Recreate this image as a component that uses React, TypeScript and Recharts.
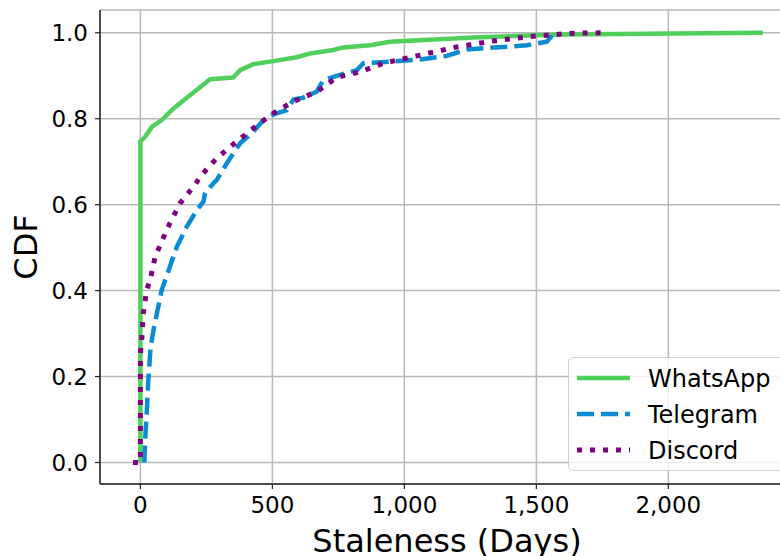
import {
  CartesianGrid,
  Label,
  Line,
  LineChart,
  XAxis,
  YAxis,
} from "recharts";

// CDF points (days, cumulative share)
const whatsappDays = [0, 0, 18, 43, 81, 119, 150, 213, 264, 352, 378, 428, 504, 592, 643, 731, 769, 870, 946, 1261, 1590, 2358];
const whatsappCdf = [0, 0.747, 0.758, 0.781, 0.797, 0.82, 0.836, 0.867, 0.892, 0.896, 0.913, 0.927, 0.934, 0.943, 0.952, 0.96, 0.966, 0.971, 0.979, 0.989, 0.996, 1.0];

const telegramDays = [15, 18, 24, 30, 39, 52, 68, 81, 112, 138, 176, 214, 239, 245, 277, 289, 327, 378, 428, 466, 504, 555, 580, 617, 668, 693, 756, 820, 845, 946, 1059, 1160, 1236, 1464, 1539, 1555, 1560];
const telegramCdf = [0, 0.053, 0.115, 0.192, 0.27, 0.316, 0.363, 0.402, 0.456, 0.502, 0.549, 0.588, 0.607, 0.627, 0.65, 0.657, 0.696, 0.743, 0.77, 0.797, 0.81, 0.82, 0.845, 0.849, 0.863, 0.89, 0.902, 0.913, 0.929, 0.933, 0.938, 0.946, 0.961, 0.971, 0.979, 0.99, 1.0];

const discordDays = [-28, 0, 0, 5, 11, 24, 37, 56, 75, 94, 112, 131, 150, 176, 207, 226, 289, 365, 428, 504, 580, 668, 744, 832, 920, 1059, 1198, 1337, 1489, 1640, 1773];
const discordCdf = [0, 0, 0.254, 0.285, 0.347, 0.402, 0.425, 0.479, 0.506, 0.533, 0.557, 0.58, 0.603, 0.623, 0.646, 0.665, 0.708, 0.747, 0.778, 0.813, 0.84, 0.863, 0.896, 0.909, 0.929, 0.948, 0.967, 0.981, 0.992, 0.999, 1.0];

const xTicks = [0, 500, 1000, 1500, 2000];
const yTicks = [0, 0.2, 0.4, 0.6, 0.8, 1.0];

const toPoints = (days: number[], cdf: number[]) =>
  days.map((d, i) => ({ d, cdf: cdf[i] }));

const series = [
  { name: "WhatsApp", color: "#50cf5c", dash: undefined, width: 4.5, data: toPoints(whatsappDays, whatsappCdf) },
  { name: "Telegram", color: "#0b8cd2", dash: "17 7", width: 4.5, data: toPoints(telegramDays, telegramCdf) },
  { name: "Discord", color: "#800080", dash: "5 8", width: 5, data: toPoints(discordDays, discordCdf) },
];

const FONT = "'DejaVu Sans', sans-serif";
const GRID = "#b8b8b8";
const SPINE = "#222";

const formatDays = (v: number) => v.toLocaleString("en-US");

const YLabel = ({ viewBox }: any) => {
  const cy = viewBox.y + viewBox.height / 2;
  return (
    <text
      x={37}
      y={cy}
      transform={`rotate(-90, 37, ${cy})`}
      textAnchor="middle"
      fontSize={32}
      fontFamily={FONT}
      fill="#000"
    >
      CDF
    </text>
  );
};

export default function App() {
  return (
    <div
      style={{
        position: "absolute",
        left: 0,
        top: 0,
        width: 780,
        height: 556,
        overflow: "hidden",
        background: "#fff",
        fontFamily: FONT,
      }}
    >
      <LineChart
        width={800}
        height={556}
        margin={{ top: 10, right: 6, bottom: 0, left: 0 }}
      >
        <CartesianGrid stroke={GRID} strokeWidth={1.5} />
        <XAxis
          xAxisId="top"
          orientation="top"
          type="number"
          dataKey="d"
          domain={[-153, 2476]}
          allowDataOverflow
          height={0}
          tick={false}
          tickLine={false}
          axisLine={{ stroke: SPINE, strokeWidth: 1.5 }}
        />
        <XAxis
          type="number"
          dataKey="d"
          domain={[-153, 2476]}
          allowDataOverflow
          ticks={xTicks}
          tickFormatter={formatDays}
          height={72}
          tickSize={5}
          tickMargin={8}
          tick={{ fontSize: 23, fill: "#000", fontFamily: FONT }}
          tickLine={{ stroke: SPINE, strokeWidth: 1.2 }}
          axisLine={{ stroke: SPINE, strokeWidth: 1.5 }}
        >
          <Label
            value="Staleness (Days)"
            position="insideBottom"
            offset={4}
            fontSize={32}
            fill="#000"
            fontFamily={FONT}
          />
        </XAxis>
        <YAxis
          type="number"
          domain={[-0.05, 1.053]}
          allowDataOverflow
          ticks={yTicks}
          tickFormatter={(v: number) => v.toFixed(1)}
          width={100}
          tickSize={5}
          tickMargin={7}
          tick={{ fontSize: 23, fill: "#000", fontFamily: FONT }}
          tickLine={{ stroke: SPINE, strokeWidth: 1.2 }}
          axisLine={{ stroke: SPINE, strokeWidth: 1.5 }}
        >
          <Label content={<YLabel />} />
        </YAxis>
        {series.map((s) => (
          <Line
            key={s.name}
            name={s.name}
            data={s.data}
            dataKey="cdf"
            type="linear"
            stroke={s.color}
            strokeWidth={s.width}
            strokeDasharray={s.dash}
            strokeLinecap="butt"
            strokeLinejoin="round"
            dot={false}
            activeDot={false}
            isAnimationActive={false}
          />
        ))}
      </LineChart>

      {/* legend, lower right inside the axes */}
      <div
        style={{
          position: "absolute",
          left: 568,
          top: 357,
          width: 218,
          height: 114,
          border: "1.5px solid #d0d0d0",
          borderRadius: 5,
          background: "rgba(255,255,255,0.8)",
          boxSizing: "border-box",
        }}
      >
        <svg width={218} height={114} style={{ position: "absolute", left: 0, top: 0 }}>
          {series.map((s, i) => {
            const y = 20 + i * 36;
            return (
              <g key={s.name}>
                <line
                  x1={8}
                  x2={61}
                  y1={y}
                  y2={y}
                  stroke={s.color}
                  strokeWidth={s.width}
                  strokeDasharray={s.dash}
                />
                <text
                  x={79}
                  y={y + 8.5}
                  fontSize={24}
                  fontFamily={FONT}
                  fill="#000"
                >
                  {s.name}
                </text>
              </g>
            );
          })}
        </svg>
      </div>
    </div>
  );
}
